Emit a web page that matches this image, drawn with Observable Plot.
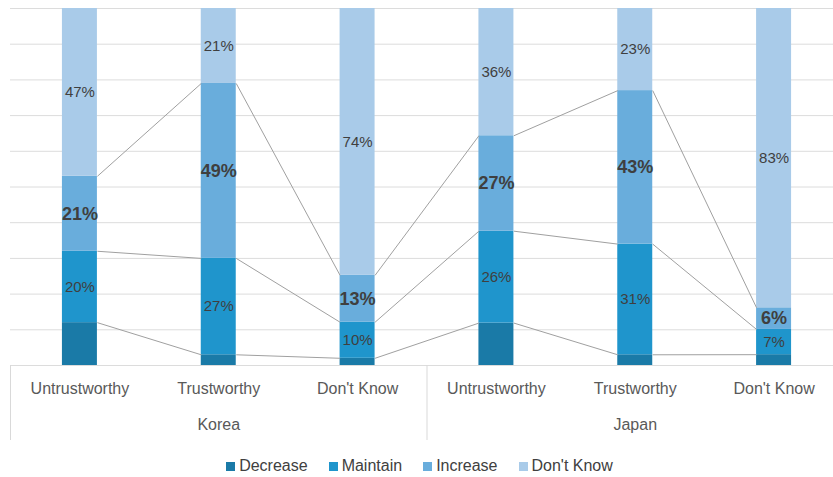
<!DOCTYPE html>
<html>
<head>
<meta charset="utf-8">
<script src="https://cdn.jsdelivr.net/npm/d3@7"></script>
<script src="https://cdn.jsdelivr.net/npm/@observablehq/plot@0.6"></script>
<style>
  body { margin: 0; background: #fff; font-family: "Liberation Sans", Arial, sans-serif; }
  #chart { width: 833px; }
  #legend { display: flex; justify-content: center; align-items: center; gap: 21px;
            height: 29px; padding-top: 7px; box-sizing: border-box; font-size: 16px; color: #404040;
            padding-left: 6px; }
  #legend .item { display: flex; align-items: center; gap: 4px; }
  #legend .sw { width: 9px; height: 9px; display: inline-block; }
</style>
</head>
<body>
<div id="chart"></div>
<script>
// Respondents' intention by perceived trustworthiness, per country
const countries = ["Korea", "Japan"];
const categories = ["Untrustworthy", "Trustworthy", "Don't Know"];
const responses = ["Decrease", "Maintain", "Increase", "Don't Know"];
const colors = ["#1a7aa7", "#1f95cc", "#69addc", "#a9cbe9"];

// Percentages for each bar: Korea (3 categories), then Japan (3 categories)
const decrease = [12, 3, 2, 12, 3, 3];
const maintain = [20, 27, 10, 26, 31, 7];
const increase = [21, 49, 13, 27, 43, 6];
const dontKnow = [47, 21, 74, 36, 23, 83];

const gridTicks = [0, 0.1, 0.2, 0.3, 0.4, 0.5, 0.6, 0.7, 0.8, 0.9, 1];

const series = [decrease, maintain, increase, dontKnow];

const bars = countries.flatMap((country, ci) =>
  categories.map((category, k) => ({i: ci * categories.length + k, country, category})));

const data = bars.flatMap(b =>
  responses.map((response, ri) => ({...b, response, value: series[ri][b.i]})));

// Cumulative share at the top of each segment, used for the series lines
const totals = bars.map(b => d3.sum(series, s => s[b.i]));
const tops = series.map((_, ri) =>
  bars.map(b => d3.sum(series.slice(0, ri + 1), s => s[b.i]) / totals[b.i]));

const halfBar = 0.126;
const links = [];
for (let ri = 0; ri < responses.length - 1; ++ri) {
  for (let i = 0; i < bars.length - 1; ++i) {
    links.push({x1: i + halfBar, x2: i + 1 - halfBar, y1: tops[ri][i], y2: tops[ri][i + 1]});
  }
}

const groups = countries.map((country, ci) => ({country, i: ci * categories.length + 1}));
const separators = [-0.5, categories.length - 0.5];

const stackOpts = {x: "i", y: "value", offset: "normalize"};

const chart = Plot.plot({
  width: 833,
  height: 448,
  marginTop: 8,
  marginBottom: 83,
  marginLeft: 10,
  marginRight: 0,
  x: {domain: [-0.5, 5.5], range: [10, 843], axis: null},
  y: {domain: [0, 1], axis: null},
  color: {domain: responses, range: colors},
  style: {fontFamily: "'Liberation Sans', Arial, sans-serif", background: "#fff"},
  marks: [
    Plot.ruleY(gridTicks, {stroke: "#dcdcdc", strokeWidth: 1}),
    Plot.rectY(data, Plot.stackY({
      x1: d => d.i - halfBar, x2: d => d.i + halfBar,
      y: "value", fill: "response", offset: "normalize"
    })),
    Plot.link(links, {x1: "x1", x2: "x2", y1: "y1", y2: "y2", stroke: "#a0a0a0", strokeWidth: 1}),
    Plot.text(data, Plot.stackY({
      ...stackOpts,
      text: d => (d.response === "Maintain" || d.response === "Don't Know") ? `${d.value}%` : "",
      fontSize: 15, fill: "#3f3f3f"
    })),
    Plot.text(data, Plot.stackY({
      ...stackOpts,
      text: d => d.response === "Increase" ? `${d.value}%` : "",
      fontSize: 18, fontWeight: "bold", fill: "#3f3f3f"
    })),
    Plot.text(bars, {x: "i", y: d => 0, dy: 23, text: "category", fontSize: 16, fill: "#595959"}),
    Plot.text(groups, {x: "i", y: d => 0, dy: 59, text: "country", fontSize: 16, fill: "#595959"}),
    Plot.ruleX(separators, {stroke: "#d9d9d9", insetTop: 357, insetBottom: -75})
  ]
});

const root = document.getElementById("chart");
root.appendChild(chart);

const legend = document.createElement("div");
legend.id = "legend";
responses.forEach((r, ri) => {
  const item = document.createElement("span");
  item.className = "item";
  const sw = document.createElement("span");
  sw.className = "sw";
  sw.style.background = colors[ri];
  const label = document.createElement("span");
  label.textContent = r;
  item.append(sw, label);
  legend.appendChild(item);
});
root.appendChild(legend);
</script>
</body>
</html>
